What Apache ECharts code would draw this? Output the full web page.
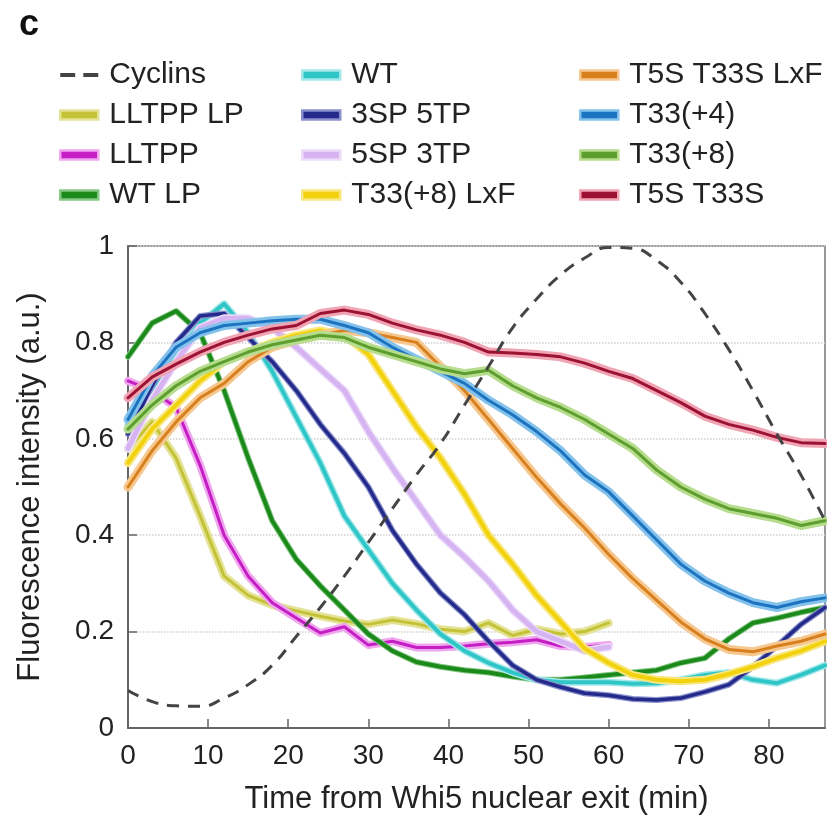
<!DOCTYPE html>
<html>
<head>
<meta charset="utf-8">
<script src="https://cdn.jsdelivr.net/npm/echarts@6/dist/echarts.min.js"></script>
<style>
html,body{margin:0;padding:0;background:#fff;}
#chart{width:827px;height:823px;}
</style>
</head>
<body>
<div id="chart"></div>
<script>
// ---- data ----
const times = [0,3,6,9,12,15,18,21,24,27,30,33,36,39,42,45,48,51,54,57,60,63,66,69,72,75,78,81,84,87];
const xTicks = [0,10,20,30,40,50,60,70,80];
const yTicks = [0,0.2,0.4,0.6,0.8,1];

const cyclins    = [0.078,0.055,0.046,0.045,0.062,0.09,0.13,0.19,0.25,0.315,0.385,0.455,0.525,0.59,0.67,0.75,0.83,0.89,0.94,0.975,0.997,0.995,0.97,0.925,0.86,0.785,0.70,0.61,0.525,0.43];
const lltppLP    = [0.58,0.635,0.56,0.44,0.315,0.275,0.255,0.243,0.232,0.222,0.215,0.224,0.216,0.205,0.20,0.218,0.192,0.205,0.195,0.20,0.218];
const lltpp      = [0.72,0.70,0.665,0.545,0.40,0.315,0.26,0.228,0.197,0.21,0.172,0.18,0.167,0.167,0.17,0.175,0.178,0.183,0.17,0.168,0.172];
const wtLP       = [0.77,0.84,0.865,0.82,0.70,0.56,0.43,0.35,0.295,0.245,0.195,0.16,0.137,0.127,0.12,0.115,0.107,0.10,0.10,0.105,0.11,0.115,0.12,0.135,0.145,0.185,0.218,0.228,0.24,0.25];
const wt         = [0.63,0.70,0.77,0.84,0.88,0.82,0.74,0.645,0.55,0.44,0.37,0.30,0.245,0.195,0.16,0.135,0.115,0.10,0.095,0.095,0.095,0.092,0.093,0.10,0.11,0.115,0.10,0.093,0.11,0.13];
const sp3tp5     = [0.61,0.71,0.80,0.855,0.86,0.81,0.76,0.70,0.63,0.57,0.50,0.41,0.34,0.28,0.235,0.18,0.13,0.10,0.085,0.072,0.068,0.06,0.058,0.062,0.075,0.09,0.127,0.17,0.215,0.25];
const sp5tp3     = [0.58,0.68,0.76,0.83,0.85,0.85,0.83,0.79,0.745,0.70,0.615,0.54,0.47,0.40,0.355,0.305,0.245,0.20,0.18,0.16,0.168];
const t33p8LxF   = [0.55,0.62,0.67,0.72,0.76,0.78,0.80,0.815,0.825,0.815,0.775,0.70,0.625,0.56,0.485,0.40,0.34,0.275,0.22,0.165,0.135,0.11,0.10,0.097,0.10,0.112,0.127,0.145,0.16,0.18];
const t5st33sLxF = [0.50,0.575,0.635,0.685,0.715,0.76,0.79,0.805,0.815,0.825,0.82,0.81,0.80,0.75,0.70,0.64,0.58,0.52,0.465,0.415,0.36,0.31,0.265,0.22,0.185,0.163,0.158,0.17,0.18,0.195];
const t33p4      = [0.64,0.73,0.79,0.82,0.835,0.84,0.845,0.848,0.848,0.835,0.82,0.79,0.765,0.74,0.715,0.68,0.65,0.615,0.575,0.525,0.49,0.44,0.39,0.34,0.305,0.28,0.26,0.25,0.262,0.27];
const t33p8      = [0.62,0.67,0.71,0.74,0.76,0.78,0.795,0.805,0.815,0.81,0.79,0.775,0.76,0.745,0.735,0.742,0.71,0.685,0.665,0.64,0.61,0.58,0.535,0.50,0.475,0.455,0.445,0.435,0.42,0.43];
const t5st33s    = [0.685,0.728,0.755,0.78,0.80,0.815,0.828,0.835,0.86,0.867,0.858,0.84,0.826,0.815,0.80,0.78,0.778,0.775,0.77,0.757,0.74,0.725,0.70,0.675,0.647,0.63,0.618,0.603,0.592,0.59];

const col1 = ['Cyclins','LLTPP LP','LLTPP','WT LP'];
const col2 = ['WT','3SP 5TP','5SP 3TP','T33(+8) LxF'];
const col3 = ['T5S T33S LxF','T33(+4)','T33(+8)','T5S T33S'];

// ---- styles ----
const FONT = "'Liberation Sans', Arial, sans-serif";
const styles = {
  'LLTPP LP':     {data: lltppLP,    c:'#c4c236', b:'#e4e294', w:3,   bw:8},
  'LLTPP':        {data: lltpp,      c:'#c41ec4', b:'#f0a6ee', w:3,   bw:8},
  'WT LP':        {data: wtLP,       c:'#1b8a1b', b:'#86c886', w:4,   bw:6},
  'WT':           {data: wt,         c:'#30c6c8', b:'#a4e8ea', w:4,   bw:7},
  '3SP 5TP':      {data: sp3tp5,     c:'#232a8a', b:'#8a90cc', w:3.5, bw:6},
  '5SP 3TP':      {data: sp5tp3,     c:'#d6b4f2', b:'#ecdcfa', w:5,   bw:8},
  'T33(+8) LxF':  {data: t33p8LxF,   c:'#f2d20c', b:'#f8e67e', w:4,   bw:8},
  'T5S T33S LxF': {data: t5st33sLxF, c:'#d8801e', b:'#f6c890', w:3,   bw:9},
  'T33(+4)':      {data: t33p4,      c:'#1c74c0', b:'#84c2ec', w:3,   bw:9},
  'T33(+8)':      {data: t33p8,      c:'#5e9e2e', b:'#b6dc8e', w:3,   bw:9},
  'T5S T33S':     {data: t5st33s,    c:'#9c1232', b:'#f0a4b4', w:3,   bw:9}
};

const series = [];
Object.keys(styles).forEach(function(name){
  const s = styles[name];
  const pts = s.data.map(function(v,i){ return [times[i], v]; });
  series.push({
    name: '_band_' + name, type:'line', data: pts, symbol:'none', silent:true,
    lineStyle:{color:s.b, width:s.bw, join:'round', cap:'round'}
  });
  series.push({
    name: name, type:'line', data: pts, symbol:'none',
    itemStyle:{color:s.c},
    lineStyle:{color:s.c, width:s.w, join:'round', cap:'round'}
  });
});
series.push({
  name:'Cyclins', type:'line', symbol:'none', smooth:true,
  data: cyclins.map(function(v,i){ return [times[i], v]; }),
  itemStyle:{color:'#444'},
  lineStyle:{color:'#444', width:3, type:[12,9]}
});

function legendItems(names){
  return names.map(function(n){
    if (n === 'Cyclins') return {name:n, icon:'path://M0,0h11v3h-11z M17,0h11v3h-11z', itemStyle:{color:'#444'}};
    const s = styles[n];
    return {name:n, icon:'rect', itemStyle:{color:s.c, borderColor:s.b, borderWidth:2.5}};
  });
}
function mkLegend(left, names){
  return {
    orient:'vertical', left:left, top:55, itemWidth:38, itemHeight:9, itemGap:10,
    data: legendItems(names), selectedMode:false,
    textStyle:{fontSize:30, lineHeight:30, color:'#222', fontFamily:FONT, padding:[0,0,0,6]}
  };
}

const option = {
  animation:false,
  backgroundColor:'#fff',
  title:{text:'c', left:14, top:2, textStyle:{fontSize:36, fontWeight:'bold', color:'#111', fontFamily:FONT}},
  legend:[mkLegend(54,col1), mkLegend(296,col2), mkLegend(574,col3)],
  grid:{left:128, right:2, top:246, bottom:95, show:true, borderColor:'#777', borderWidth:1.5, backgroundColor:'transparent'},
  xAxis:{
    type:'value', min:0, max:87, interval:10,
    name:'Time from Whi5 nuclear exit (min)', nameLocation:'middle', nameGap:56,
    nameTextStyle:{fontSize:31, color:'#222', fontFamily:FONT},
    axisLine:{show:true, lineStyle:{color:'#666', width:2}},
    axisTick:{show:true, inside:true, length:9, lineStyle:{color:'#666', width:1.5}},
    axisLabel:{fontSize:28, color:'#222', fontFamily:FONT, margin:14, showMaxLabel:false,
      formatter:function(v){ return xTicks.indexOf(v) >= 0 ? String(v) : ''; }},
    splitLine:{show:false}
  },
  yAxis:{
    type:'value', min:0, max:1, interval:0.2,
    name:'Fluorescence intensity (a.u.)', nameLocation:'middle', nameGap:82,
    nameTextStyle:{fontSize:31, color:'#222', fontFamily:FONT},
    axisLine:{show:true, lineStyle:{color:'#666', width:2}},
    axisTick:{show:true, inside:true, length:9, lineStyle:{color:'#666', width:1.5}},
    axisLabel:{fontSize:28, color:'#222', fontFamily:FONT, margin:14,
      formatter:function(v){
        const k = yTicks.findIndex(function(t){ return Math.abs(t - v) < 1e-6; });
        if (k < 0) return '';
        const t = yTicks[k];
        return (t === 0 || t === 1) ? String(t) : t.toFixed(1);
      }},
    splitLine:{show:true, lineStyle:{color:'#d0d0d0', type:'dotted', width:1.5}}
  },
  series: series
};

const chart = echarts.init(document.getElementById('chart'), null, {renderer:'canvas'});
chart.setOption(option);
</script>
</body>
</html>
